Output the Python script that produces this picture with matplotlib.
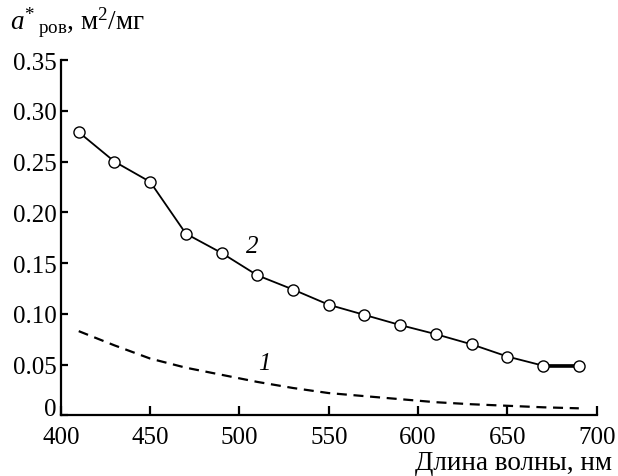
import matplotlib
matplotlib.use("Agg")
import matplotlib.pyplot as plt
import numpy as np

plt.rcParams['font.family'] = ['Liberation Serif', 'DejaVu Serif']
plt.rcParams['mathtext.fontset'] = 'custom'
plt.rcParams['mathtext.rm'] = 'Liberation Serif'
plt.rcParams['mathtext.it'] = 'Liberation Serif:italic'

wavelength = [410, 430, 450, 470, 490, 510, 530, 550, 570, 590, 610, 630, 650, 670, 690]
series2 = [0.279, 0.250, 0.230, 0.179, 0.160, 0.138, 0.124, 0.109, 0.099, 0.089, 0.080, 0.070, 0.058, 0.049, 0.049]
series1 = [0.083, 0.069, 0.056, 0.047, 0.040, 0.033, 0.027, 0.022, 0.019, 0.016, 0.013, 0.011, 0.0095, 0.008, 0.007]
xticks = [400, 450, 500, 550, 600, 650, 700]
yticks = [0, 0.05, 0.10, 0.15, 0.20, 0.25, 0.30, 0.35]
ytick_labels = ['0', '0.05', '0.10', '0.15', '0.20', '0.25', '0.30', '0.35']

fig = plt.figure(figsize=(6.18, 4.77), dpi=100)
ax = fig.add_axes([0.0985, 0.127, 0.867, 0.745])

ax.plot(wavelength, series1, color='black', lw=1.6, linestyle=(0, (4.5, 3)))
ax.plot(wavelength, series2, color='black', lw=1.3, marker='o', markersize=8,
        markerfacecolor='white', markeredgecolor='black', markeredgewidth=1.0, zorder=3)
ax.plot(wavelength[-2:], series2[-2:], color='black', lw=2.6, zorder=2)

ax.set_xlim(400, 700)
ax.set_ylim(0, 0.35)
ax.set_xticks(xticks)
ax.set_yticks(yticks)
ax.set_yticklabels(ytick_labels)
for s in ['top', 'right']:
    ax.spines[s].set_visible(False)
for s in ['left', 'bottom']:
    ax.spines[s].set_linewidth(1.6)
ax.tick_params(axis='both', direction='in', labelsize=18, width=1.6)
ax.tick_params(axis='y', length=5, pad=3)
ax.tick_params(axis='x', length=6.5, pad=7.5)
ax.get_yticklabels()[0].set_va('baseline')

ax.text(507, 0.167, '2', fontsize=18, style='italic', ha='center', va='center')
ax.text(514, 0.052, '1', fontsize=18, style='italic', ha='center', va='center')

fig.text(10/618, 1 - 30/477, r'$a^{*}\,{}_{\mathrm{ров}}$, м$^2$/мг', fontsize=19.5, ha='left', va='baseline')
fig.text(612/618, 1 - 470/477, 'Длина волны, нм', fontsize=19.5, ha='right', va='baseline')

fig.savefig('out.png', dpi=100)
